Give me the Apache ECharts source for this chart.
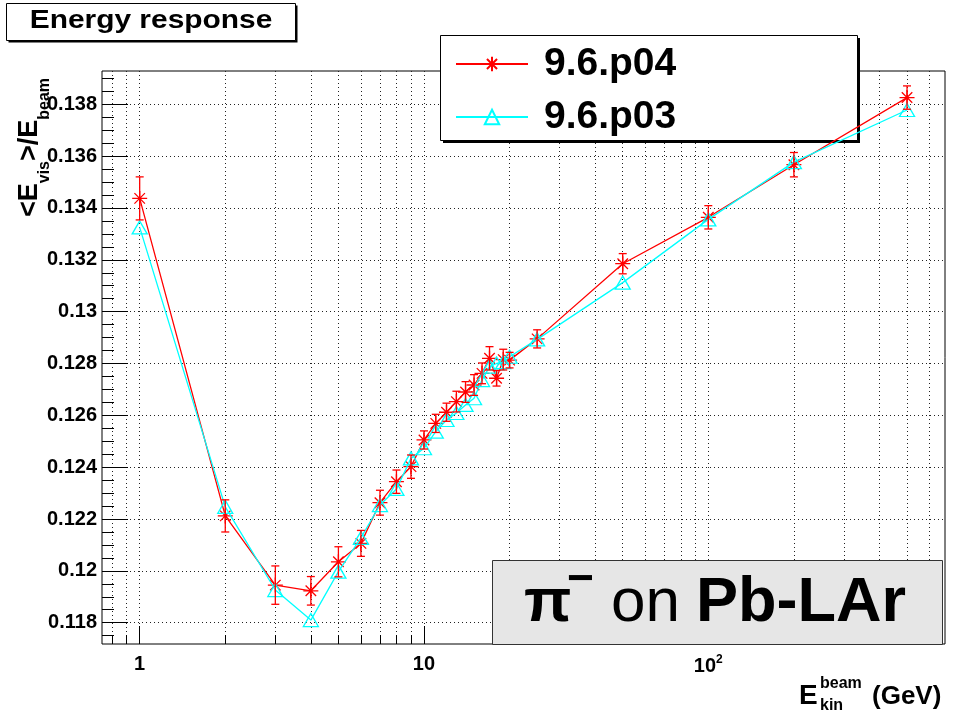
<!DOCTYPE html>
<html><head><meta charset="utf-8">
<script src="https://cdn.jsdelivr.net/npm/echarts@6/dist/echarts.min.js"></script>
<style>html,body{margin:0;padding:0;background:#fff}#c{width:964px;height:716px}</style>
</head><body><div id="c"></div>
<script>
// ---- data ----
const energies = [1,2,3,4,5,6,7,8,9,10,11,12,13,14,15,16,17,18,19,20,25,50,100,200,500];
const respP04 = [0.13437,0.12212,0.11945,0.11923,0.12035,0.12106,0.12263,0.12344,0.12402,0.12505,0.12569,0.12612,0.12653,0.12690,0.12717,0.12762,0.12820,0.12743,0.12815,0.12813,0.12895,0.13185,0.13364,0.13567,0.13826];
const errP04  = [0.00083,0.00062,0.00074,0.00055,0.00058,0.00050,0.00048,0.00045,0.00045,0.00035,0.00035,0.00035,0.00040,0.00040,0.00040,0.00040,0.00045,0.00030,0.00040,0.00030,0.00035,0.00039,0.00045,0.00047,0.00045];
const respP03 = [0.13325,0.12247,0.11926,0.11810,0.11997,0.12127,0.12254,0.12316,0.12434,0.12473,0.12537,0.12582,0.12609,0.12640,0.12666,0.12736,0.12788,0.12800,0.12805,0.12826,0.12893,0.13112,0.13356,0.13577,0.13778];
const seriesNames = ['9.6.p04','9.6.p03'];
const xMajorTicks = [1,10,100];
const xGridValues = [0.8,0.9,1,2,3,4,5,6,7,8,9,10,20,30,40,50,60,70,80,90,100,200,300,400,500,600];
const yMajorTicks = [0.118,0.12,0.122,0.124,0.126,0.128,0.13,0.132,0.134,0.136,0.138];
const yMinorTicks = [0.1175,0.1185,0.119,0.1195,0.1205,0.121,0.1215,0.1225,0.123,0.1235,0.1245,0.125,0.1255,0.1265,0.127,0.1275,0.1285,0.129,0.1295,0.1305,0.131,0.1315,0.1325,0.133,0.1335,0.1345,0.135,0.1355,0.1365,0.137,0.1375,0.1385,0.139];
const xRange = [0.737, 680];
const yRange = [0.117178, 0.139285];

// ---- chart ----
const FONT = 'Liberation Sans';
const RED = '#ff0000', CYAN = '#00ffff';
const starPath = 'path://M0,-1L0,1M-1,0L1,0M-0.7,-0.7L0.7,0.7M-0.7,0.7L0.7,-0.7';
const triPath = 'path://M0,-1L0.95,0.7L-0.95,0.7Z';

const dataP04 = energies.map((e,i)=>[e, respP04[i]]);
const dataP03 = energies.map((e,i)=>[e, respP03[i]]);
const dataErr = energies.map((e,i)=>[e, respP04[i], errP04[i]]);

const chart = echarts.init(document.getElementById('c'), null, {renderer:'canvas'});
const dotted = {type:[1,3], color:'#222', width:1};
function txt(x, y, s, font, extra){
  return Object.assign({type:'text', z:21, x:x, y:y,
    style:{text:s, font:font, fill:'#000', align:'left', verticalAlign:'middle', textAlign:'left', textVerticalAlign:'middle'}}, extra||{});
}

const option = {
  animation:false,
  backgroundColor:'#fff',
  grid:{left:102, right:19, top:71, bottom:72, show:true, borderColor:'#000', borderWidth:1, backgroundColor:'transparent', containLabel:false},
  xAxis:[
    {type:'log', logBase:10, min:xRange[0], max:xRange[1], position:'bottom',
     axisLine:{show:false},
     axisTick:{show:true, inside:true, length:18, customValues:xMajorTicks, lineStyle:{color:'#000', width:1}},
     axisLabel:{customValues:xMajorTicks, margin:10, color:'#000', fontSize:20, fontWeight:'bold', fontFamily:FONT,
       formatter:function(v){const p=Math.round(Math.log10(v)); if(p===0) return '1'; if(p===1) return '10'; return '{b|10}{p|'+p+'}';},
       rich:{b:{fontSize:20, fontWeight:'bold', fontFamily:FONT, color:'#000', lineHeight:22, verticalAlign:'bottom'},
             p:{fontSize:12, fontWeight:'bold', fontFamily:FONT, color:'#000', lineHeight:12, verticalAlign:'top'}}},
     splitLine:{show:false}},
    {type:'log', logBase:10, min:xRange[0], max:xRange[1], position:'bottom', gridIndex:0,
     axisLine:{show:false},
     axisTick:{show:true, inside:true, length:9, customValues:xGridValues, lineStyle:{color:'#000', width:1}},
     axisLabel:{show:false},
     splitLine:{show:true, lineStyle:dotted}}
  ],
  yAxis:[
    {type:'value', min:yRange[0], max:yRange[1], position:'left',
     axisLine:{show:false},
     axisTick:{show:true, inside:true, length:26, customValues:yMajorTicks, lineStyle:{color:'#000', width:1}},
     axisLabel:{customValues:yMajorTicks, margin:5, color:'#000', fontSize:20, fontWeight:'bold', fontFamily:FONT,
       formatter:function(v){return String(+(+v).toFixed(3));}},
     splitLine:{show:true, lineStyle:dotted}},
    {type:'value', min:yRange[0], max:yRange[1], position:'left', gridIndex:0,
     axisLine:{show:false},
     axisTick:{show:true, inside:true, length:12, customValues:yMinorTicks, lineStyle:{color:'#000', width:1}},
     axisLabel:{show:false},
     splitLine:{show:false}}
  ],
  legend:{
    data:seriesNames, orient:'vertical', left:450, top:39, itemWidth:72, itemHeight:18, itemGap:13,
    selectedMode:false, z:6,
    textStyle:{fontSize:39, fontWeight:'bold', color:'#000', fontFamily:FONT, padding:[0,0,0,11], lineHeight:40}
  },
  series:[
    {name:seriesNames[0], type:'line', xAxisIndex:0, yAxisIndex:0, data:dataP04,
     symbol:starPath, symbolSize:15, showAllSymbol:true, z:3,
     lineStyle:{color:RED, width:1.3},
     itemStyle:{color:RED, borderColor:RED, borderWidth:1.3}},
    {name:seriesNames[1], type:'line', xAxisIndex:0, yAxisIndex:0, data:dataP03,
     symbol:triPath, symbolSize:[15,13], showAllSymbol:true, z:4,
     lineStyle:{color:CYAN, width:1.3},
     itemStyle:{color:'rgba(0,0,0,0)', borderColor:CYAN, borderWidth:1.3}},
    {name:'err', type:'custom', xAxisIndex:0, yAxisIndex:0, data:dataErr, z:5,
     encode:{x:0, y:1},
     renderItem:function(params, api){
       const x = api.value(0), y = api.value(1), e = api.value(2);
       const t = api.coord([x, y+e]), b = api.coord([x, y-e]);
       const c = 4, st = {stroke:RED, lineWidth:1.3};
       return {type:'group', children:[
         {type:'line', shape:{x1:t[0], y1:t[1], x2:b[0], y2:b[1]}, style:st},
         {type:'line', shape:{x1:t[0]-c, y1:t[1], x2:t[0]+c, y2:t[1]}, style:st},
         {type:'line', shape:{x1:b[0]-c, y1:b[1], x2:b[0]+c, y2:b[1]}, style:st}
       ]};
     }}
  ],
  graphic:[
    // title box
    {type:'rect', z:10, shape:{x:8.5, y:5.5, width:289, height:37}, style:{fill:'#000'}},
    {type:'rect', z:11, shape:{x:6.5, y:3.5, width:289, height:37}, style:{fill:'#fff', stroke:'#000', lineWidth:1}},
    {type:'text', z:12, x:151, y:21, scaleX:1.15,
     style:{text:'Energy response', font:'bold 26px "Liberation Sans"', fill:'#000', align:'center', verticalAlign:'middle', textAlign:'center', textVerticalAlign:'middle'}},
    // legend box
    {type:'rect', z:3, shape:{x:443, y:38, width:417, height:105}, style:{fill:'#000'}},
    {type:'rect', z:3, shape:{x:440.5, y:35.5, width:417, height:105}, style:{fill:'#fff', stroke:'#000', lineWidth:1}},
    // label box
    {type:'rect', z:20, shape:{x:492.5, y:560.5, width:450, height:84}, style:{fill:'#e6e6e6', stroke:'#333', lineWidth:1}},
    txt(524, 604, 'π', 'bold 62px "Liberation Sans"'),
    txt(567, 580, '−', 'bold 46px "Liberation Sans"'),
    txt(611, 604, 'on', '62px "Liberation Sans"'),
    txt(696, 604, 'Pb-LAr', 'bold 63px "Liberation Sans"'),
    // x axis title
    txt(799, 696.5, 'E', 'bold 28px "Liberation Sans"', {z:12}),
    txt(820, 683.5, 'beam', 'bold 16px "Liberation Sans"', {z:12}),
    txt(820, 705.5, 'kin', 'bold 16px "Liberation Sans"', {z:12}),
    txt(872, 697, '(GeV)', 'bold 26px "Liberation Sans"', {z:12}),
    // y axis title
    {type:'text', z:12, x:16, y:217, rotation:Math.PI/2,
     style:{text:'{m|<E}{s|vis}{m|>/E}{s|beam}', align:'left', verticalAlign:'top', textAlign:'left', textVerticalAlign:'top',
       rich:{m:{fontSize:27, fontWeight:'bold', fontFamily:FONT, fill:'#000', lineHeight:37, verticalAlign:'top'},
             s:{fontSize:16, fontWeight:'bold', fontFamily:FONT, fill:'#000', verticalAlign:'bottom'}}}}
  ]
};
chart.setOption(option);
</script>
</body></html>
